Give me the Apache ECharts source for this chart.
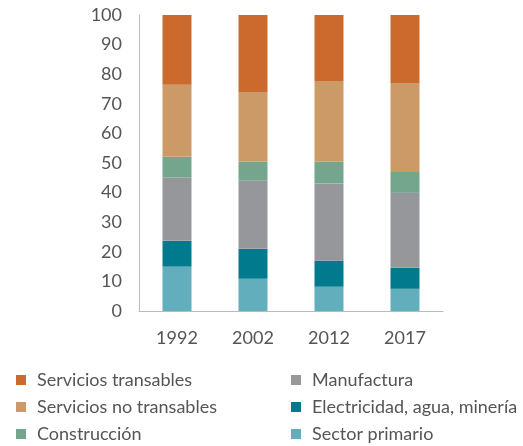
<!DOCTYPE html>
<html>
<head>
<meta charset="utf-8">
<script src="https://cdn.jsdelivr.net/npm/echarts@6/dist/echarts.min.js"></script>
<style>
  html, body { margin: 0; padding: 0; background: #fff; }
  #main { width: 523px; height: 446px; }
</style>
</head>
<body>
<div id="main"></div>
<script>
// años
var years = ['1992', '2002', '2012', '2017'];

// valores por sector (%), de abajo hacia arriba
var sectorPrimario = [15.0, 10.9, 8.2, 7.5];
var electricidad = [8.7, 10.1, 8.8, 7.1];
var manufactura = [21.4, 23.0, 26.1, 25.3];
var construccion = [7.0, 6.4, 7.3, 7.1];
var noTransables = [24.3, 23.6, 27.3, 30.0];
var transables = [23.6, 26.0, 22.3, 23.0];

var yTicks = [0, 10, 20, 30, 40, 50, 60, 70, 80, 90, 100];

var chart = echarts.init(document.getElementById('main'));

var fontFamily = 'Lato, "Open Sans", sans-serif';

function barSeries(name, data, color) {
  return {
    name: name,
    type: 'bar',
    stack: 'total',
    barWidth: 29,
    data: data,
    itemStyle: { color: color }
  };
}

var legendText = {
  color: '#555',
  fontSize: 18,
  fontFamily: fontFamily,
  lineHeight: 18,
  padding: [0, 0, 0, 6]
};

function legendCol(left, names) {
  return {
    orient: 'vertical',
    left: left,
    top: 371,
    height: 75,
    padding: 0,
    itemWidth: 10,
    itemHeight: 10,
    itemGap: 9,
    icon: 'rect',
    textStyle: legendText,
    data: names
  };
}

var option = {
  animation: false,
  textStyle: { fontFamily: fontFamily },
  grid: {
    left: 139,
    right: 80,
    top: 15,
    bottom: 135
  },
  legend: [
    legendCol(16, ['Servicios transables', 'Servicios no transables', 'Construcción']),
    legendCol(291, ['Manufactura', 'Electricidad, agua, minería', 'Sector primario'])
  ],
  xAxis: {
    type: 'category',
    data: years,
    axisTick: { show: false },
    axisLine: { lineStyle: { color: '#bbb', width: 1 } },
    axisLabel: {
      color: '#555',
      fontSize: 18,
      margin: 18,
      fontFamily: fontFamily
    }
  },
  yAxis: {
    type: 'value',
    min: yTicks[0],
    max: yTicks[yTicks.length - 1],
    interval: 10,
    splitLine: { show: false },
    axisTick: { show: false },
    axisLine: { show: true, lineStyle: { color: '#bbb', width: 1 } },
    axisLabel: {
      color: '#555',
      fontSize: 18,
      margin: 17,
      fontFamily: fontFamily
    }
  },
  series: [
    barSeries('Sector primario', sectorPrimario, '#62aebc'),
    barSeries('Electricidad, agua, minería', electricidad, '#007a8c'),
    barSeries('Manufactura', manufactura, '#96979b'),
    barSeries('Construcción', construccion, '#74a68e'),
    barSeries('Servicios no transables', noTransables, '#cc9a66'),
    barSeries('Servicios transables', transables, '#cb6a2c')
  ]
};

chart.setOption(option);
</script>
</body>
</html>
